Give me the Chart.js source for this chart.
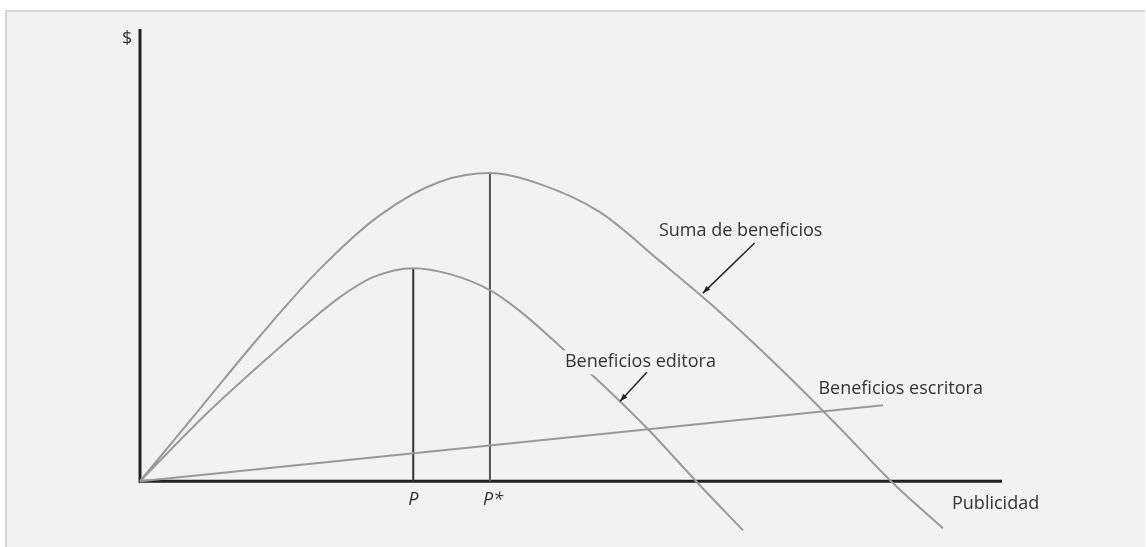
<!DOCTYPE html>
<html>
<head>
<meta charset="utf-8">
<script src="https://cdn.jsdelivr.net/npm/chart.js@4.4.1/dist/chart.umd.min.js"></script>
<style>
  html, body { margin: 0; padding: 0; background: #fff; }
  #panel {
    position: absolute; left: 5px; top: 10px; width: 1140px; height: 537px;
    background: #f2f2f2; border-top: 2px solid #d6d6d6; border-left: 2px solid #d6d6d6;
    box-sizing: border-box;
  }
  #chart { position: absolute; left: 0; top: 0; }
</style>
</head>
<body>
<div id="panel"></div>
<canvas id="chart" width="1146" height="547"></canvas>
<script>
// publicidad (x) y beneficios (y), unidades arbitrarias
const publicidadSuma = [0, 6.96, 13.92, 20.88, 27.84, 34.8, 40.6, 46.4, 53.36, 60.32, 67.29, 74.25, 81.21, 87.24, 93.16];
const beneficiosSuma = [0, 16.06, 32.12, 46.95, 58.85, 66.22, 68.14, 65.71, 59.51, 48.67, 37.39, 25.0, 11.73, -0.22, -10.4];

const publicidadEditora = [0, 7.77, 15.43, 19.72, 23.2, 27.03, 31.7, 35.96, 40.6, 44.08, 48.72, 53.36, 59.16, 64.62, 69.95];
const beneficiosEditora = [0, 15.04, 28.32, 35.4, 40.71, 45.13, 47.12, 45.8, 42.26, 37.61, 29.87, 21.9, 11.06, -0.22, -10.84];

const publicidadEscritora = [0, 86.2];
const beneficiosEscritora = [0, 16.8];

const marcasP = ['P', 'P*'];
const valoresP = [31.7, 40.6];
const alturasP = [47.12, 68.14];

const ejeX = { min: 0, max: 100 };
const ejeY = { min: -11, max: 100 };

const toPoints = (xs, ys) => xs.map((x, i) => ({ x: x, y: ys[i] }));

const FONT = '"Open Sans", "DejaVu Sans", sans-serif';
const curveColor = '#999999';

const curve = (data) => ({
    data: data,
    borderColor: curveColor,
    borderWidth: 2,
    pointRadius: 0,
    cubicInterpolationMode: 'monotone',
    fill: false,
    clip: false
});

const straight = (data, color, width) => ({
    data: data,
    borderColor: color,
    borderWidth: width,
    pointRadius: 0,
    tension: 0,
    fill: false,
    clip: false
});

// etiquetas y flechas del diagrama
const annotations = {
    id: 'annotations',
    afterDatasetsDraw(chart) {
        const ctx = chart.ctx;
        const xs = chart.scales.x, ys = chart.scales.y;
        const px = v => xs.getPixelForValue(v);
        const py = v => ys.getPixelForValue(v);

        ctx.save();
        ctx.fillStyle = '#333';
        ctx.textBaseline = 'middle';
        ctx.font = '18px ' + FONT;

        function label(text, x, y, align, bg) {
            ctx.textAlign = align || 'left';
            if (bg) {
                const w = ctx.measureText(text).width;
                const left = align === 'center' ? px(x) - w / 2 : px(x);
                ctx.fillStyle = '#f2f2f2';
                ctx.fillRect(left - 3, py(y) - 12, w + 6, 24);
                ctx.fillStyle = '#333';
            }
            ctx.fillText(text, px(x), py(y));
        }

        function arrow(x1, y1, x2, y2) {
            const ax = px(x1), ay = py(y1), bx = px(x2), by = py(y2);
            const ang = Math.atan2(by - ay, bx - ax);
            ctx.strokeStyle = '#222';
            ctx.lineWidth = 1.5;
            ctx.beginPath();
            ctx.moveTo(ax, ay);
            ctx.lineTo(bx, by);
            ctx.stroke();
            ctx.fillStyle = '#222';
            ctx.beginPath();
            ctx.moveTo(bx, by);
            ctx.lineTo(bx - 8 * Math.cos(ang - 0.35), by - 8 * Math.sin(ang - 0.35));
            ctx.lineTo(bx - 8 * Math.cos(ang + 0.35), by - 8 * Math.sin(ang + 0.35));
            ctx.closePath();
            ctx.fill();
            ctx.fillStyle = '#333';
        }

        label('Suma de beneficios', 60.2, 55.3);
        arrow(71.3, 52.7, 65.3, 41.6);
        label('Beneficios editora', 49.3, 26.3, 'left', true);
        arrow(58.8, 24.1, 55.7, 17.7);
        label('Beneficios escritora', 78.7, 20.4);
        label('Publicidad', 94.2, -4.9);
        label('$', -1.5, 97.8, 'center');

        ctx.font = 'italic 18px ' + FONT;
        marcasP.forEach((m, i) => {
            ctx.textAlign = 'center';
            ctx.fillText(m, px(valoresP[i]) + (m.length > 1 ? 3 : 0), py(-4.2));
        });
        ctx.restore();
    }
};

const datasets = [
    curve(toPoints(publicidadSuma, beneficiosSuma)),
    curve(toPoints(publicidadEditora, beneficiosEditora)),
    straight(toPoints(publicidadEscritora, beneficiosEscritora), curveColor, 2),
    straight([{ x: valoresP[0], y: 0 }, { x: valoresP[0], y: alturasP[0] }], '#333', 2),
    straight([{ x: valoresP[1], y: 0 }, { x: valoresP[1], y: alturasP[1] }], '#555', 2),
    // ejes
    straight([{ x: ejeX.min, y: ejeY.max }, { x: ejeX.min, y: 0 }, { x: ejeX.max, y: 0 }], '#222', 3)
];

new Chart(document.getElementById('chart'), {
    type: 'line',
    data: { datasets: datasets },
    options: {
        responsive: false,
        animation: false,
        devicePixelRatio: 1,
        layout: { padding: { left: 140, right: 144, top: 29, bottom: 16 } },
        plugins: {
            legend: { display: false },
            tooltip: { enabled: false },
            title: { display: false }
        },
        scales: {
            x: { type: 'linear', min: ejeX.min, max: ejeX.max, display: false },
            y: { type: 'linear', min: ejeY.min, max: ejeY.max, display: false }
        }
    },
    plugins: [annotations]
});
</script>
</body>
</html>
